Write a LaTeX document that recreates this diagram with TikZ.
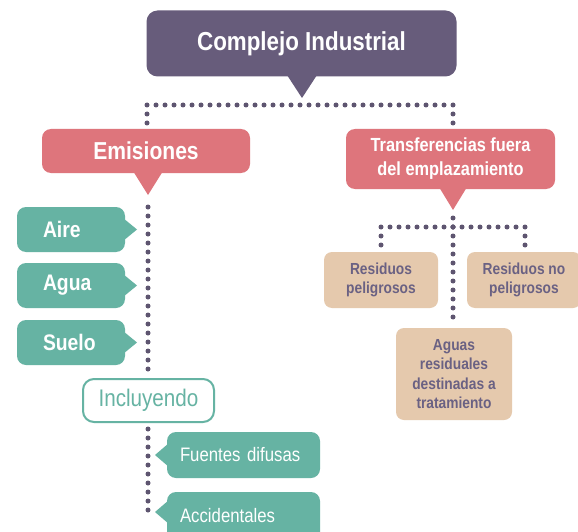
\documentclass[tikz,border=0pt]{standalone}
\usepackage{fontspec}
\setmainfont{Liberation Sans}[FakeStretch=0.86]
\definecolor{cpurple}{HTML}{675C7B}
\definecolor{cred}{HTML}{DE757C}
\definecolor{cteal}{HTML}{66B3A3}
\definecolor{cbeige}{HTML}{E5C9AD}
\definecolor{cdot}{HTML}{5E5570}
\definecolor{ctext}{HTML}{6A6183}
\tikzset{
  box/.style={rectangle, rounded corners=9pt, inner sep=0pt, text=white, align=center},
  purplebox/.style={box, fill=cpurple, rounded corners=11pt, font=\bfseries\fontsize{26}{28}\selectfont},
  redbox/.style={box, fill=cred, font=\bfseries\fontsize{24.5}{27}\selectfont},
  redbox2/.style={box, fill=cred, font=\bfseries\fontsize{19}{24}\selectfont},
  tealbox/.style={box, fill=cteal, minimum width=108pt, minimum height=45pt, inner xsep=26pt, text width=56pt, align=left, font=\bfseries\fontsize{22.5}{24}\selectfont},
  tealsmall/.style={box, fill=cteal, minimum width=153pt, minimum height=46pt, inner xsep=13pt, text width=127pt, align=left, font=\fontsize{19.5}{22}\selectfont},
  outlinebox/.style={box, draw=cteal, line width=2pt, fill=white, text=cteal, rounded corners=11pt, minimum width=131pt, minimum height=43pt, font=\fontsize{24}{26}\selectfont},
  beigebox/.style={box, fill=cbeige, text=ctext, rounded corners=8pt, font=\bfseries\fontsize{16}{19.5}\selectfont},
  dotline/.style={cdot, line width=5pt, line cap=round, dash pattern=on 0pt off 9pt},
}
\begin{document}
\begin{tikzpicture}[x=1pt, y=-1pt]
\clip (0,0) rectangle (578,532);
\fill[white] (0,0) rectangle (578,532);
% main nodes
\node[purplebox, minimum width=310pt, minimum height=66pt] (ci) at (301.5,43.5) {Complejo Industrial};
\coordinate (citip) at (302,98);
\fill[cpurple] (287,75) -- (citip) -- (317,75) -- cycle;

\node[redbox, minimum width=208pt, minimum height=44pt] (em) at (146,151) {Emisiones};
\coordinate (emtip) at (148,195);
\fill[cred] (133,171) -- (emtip) -- (163,171) -- cycle;

\node[redbox2, minimum width=209pt, minimum height=60pt] (tr) at (450.5,159) {Transferencias fuera\\del emplazamiento};
\coordinate (trtip) at (453,210);
\fill[cred] (439,187) -- (trtip) -- (467,187) -- cycle;

% teal boxes
\node[tealbox] (aire) at (71,229.5) {Aire};
\coordinate (airetip) at (137,229.5);
\fill[cteal] (123,218) -- (airetip) -- (123,241) -- cycle;
\node[tealbox] (agua) at (71,285.5) {Agua};
\coordinate (aguatip) at (137,285.5);
\fill[cteal] (123,274) -- (aguatip) -- (123,297) -- cycle;
\node[tealbox] (suelo) at (71,342.5) {Suelo};
\coordinate (suelotip) at (137,342.5);
\fill[cteal] (123,331) -- (suelotip) -- (123,354) -- cycle;

\node[outlinebox] (incl) at (148.5,400.5) {Incluyendo};

\node[tealsmall] (fd) at (243.5,455) {Fuentes difusas};
\coordinate (fdtip) at (155,455);
\fill[cteal] (169,443) -- (fdtip) -- (169,467) -- cycle;
\node[tealsmall, minimum height=50pt] (acc) at (243.5,517) {\raisebox{3pt}{Accidentales}};
\coordinate (acctip) at (155,512);
\fill[cteal] (169,500) -- (acctip) -- (169,524) -- cycle;

% beige boxes
\node[beigebox, minimum width=114pt, minimum height=56pt] (rp) at (381,280) {Residuos\\peligrosos};
\node[beigebox, minimum width=114pt, minimum height=56pt] (rnp) at (524,280) {Residuos no\\peligrosos};
\node[beigebox, minimum width=116pt, minimum height=92pt] (aguas) at (454,374) {Aguas\\residuales\\destinadas a\\tratamiento};

% dotted connectors
\coordinate (tl) at (147,105);
\coordinate (trr) at (453,105);
\draw[dotline] (147,123) -- (tl) -- (trr) -- (453,123);
\draw[dotline] (148,207) -- (148,375);
\draw[dotline] (148,429) -- (148,513);
\coordinate (tm) at (453,227);
\draw[dotline] (453,218) -- (tm);
\draw[dotline] (381,245) -- (381,227) -- (525,227) -- (525,245);
\draw[dotline] (tm) -- (453,322);
\end{tikzpicture}
\end{document}
